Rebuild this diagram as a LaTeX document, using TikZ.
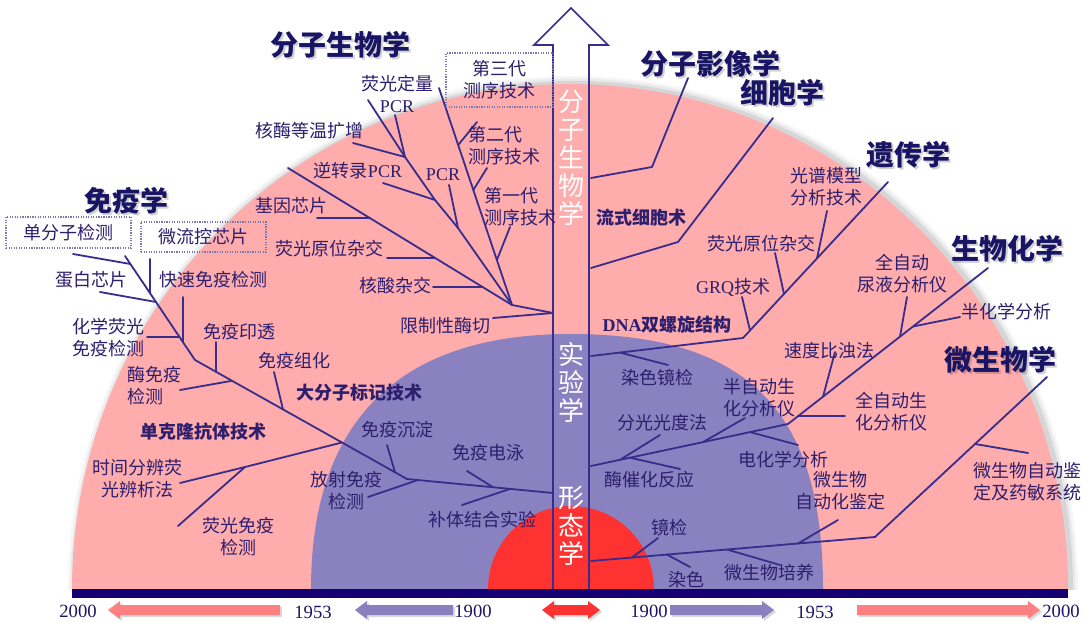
\documentclass[tikz,border=0pt]{standalone}
\usepackage{fontspec}
\setmainfont{Noto Sans CJK SC}
\newfontfamily\lat{Liberation Serif}
\usetikzlibrary{calc}
\definecolor{pinkbg}{RGB}{255,172,172}
\definecolor{bluebg}{RGB}{138,130,192}
\definecolor{redbg}{RGB}{255,50,50}
\definecolor{barc}{RGB}{20,0,115}
\definecolor{linec}{RGB}{55,45,140}
\definecolor{labc}{RGB}{45,30,110}
\definecolor{ttlc}{RGB}{25,20,100}
\definecolor{boxc}{RGB}{120,120,175}
\definecolor{arrpink}{RGB}{255,128,128}
\definecolor{arrblue}{RGB}{138,128,192}
\definecolor{yearc}{RGB}{30,20,100}
\newcommand\mylf{\fontsize{13.5}{16.5}\selectfont}
\newcommand\mytf{\fontsize{21}{24}\selectfont\bfseries}
\newcommand\myvf{\fontsize{19.5}{21}\selectfont}
\newcommand\myyf{\lat\fontsize{14}{16}\selectfont}
\begin{document}
\begin{tikzpicture}[x=0.75pt,y=-0.75pt,
  lbl/.style={text=labc,font=\mylf,inner sep=0pt,align=center},
  lbll/.style={lbl,align=left,anchor=west},
  bld/.style={lbl,font=\mylf\bfseries},
  ttl/.style={text=ttlc,font=\mytf,inner sep=0pt},
  ttlsh/.style={text=black,opacity=0.18,font=\mytf,inner sep=0pt},
  br/.style={draw=linec,line width=1.35pt,line join=round,line cap=round},
  dbox/.style={draw=boxc,densely dotted,line width=0.9pt},
  vtxt/.style={text=white,font=\myvf,inner sep=0pt,align=center},
  yr/.style={text=yearc,font=\myyf,inner sep=0pt},
  tlsh/.style={fill=black,opacity=0.15},
]
\useasboundingbox (0,0) rectangle (1084,623);
\fill[white] (0,0) rectangle (1084,623);
% ---------- background half discs ----------
\begin{scope}
\clip (0,0) rectangle (1084,589);
\foreach \d/\o in {7/0.035,4.5/0.05,2/0.08}{
  \fill[black,opacity=\o] (573,588) ellipse [x radius=498+\d, y radius=505+\d];
}
\fill[pinkbg] (570,589) ellipse [x radius=498, y radius=505];
\fill[bluebg] (311,589) .. controls (311,425) and (395,334) .. (570,334)
  .. controls (747,334) and (823,410) .. (823,589) -- cycle;
\fill[redbg] (571,589) circle [radius=83];
\end{scope}
\fill[barc] (72,589) rectangle (1068,598);
% ---------- coordinates: molecular biology ----------
\coordinate (mS) at (553,313); \coordinate (mE) at (512,305); \coordinate (mR) at (493,318);
\coordinate (mL1) at (288,168);
\coordinate (mJ1) at (370,218.2); \coordinate (mG1) at (317,218.2);
\coordinate (mJ2) at (435,257.9); \coordinate (mG2) at (387,257.9);
\coordinate (mJ3) at (483,287.3); \coordinate (mG3) at (433,287.3);
\coordinate (mD) at (458,228); \coordinate (mC) at (435,200); \coordinate (mB) at (405,157); \coordinate (mA) at (368,100);
\coordinate (mB1) at (395,115); \coordinate (mB2) at (353,143); \coordinate (mC1) at (383,183); \coordinate (mD1) at (449,185);
\coordinate (mT) at (439,88);
\coordinate (mK1) at (458.2,145); \coordinate (mK1e) at (477,122);
\coordinate (mK2) at (473.3,190); \coordinate (mK2e) at (487,168);
\coordinate (mK3) at (496.9,260); \coordinate (mK3e) at (510,227);
% ---------- coordinates: immunology ----------
\coordinate (iT0) at (125,256); \coordinate (iT1) at (195,360); \coordinate (iT2) at (407,479); \coordinate (iS) at (553,493);
\coordinate (iA) at (130.4,264); \coordinate (iAe) at (73,254);
\coordinate (iB) at (150,293); \coordinate (iBe) at (150,259);
\coordinate (iC) at (156,302); \coordinate (iCe) at (100,292);
\coordinate (iD) at (179.5,337); \coordinate (iDe) at (147,337);
\coordinate (iE) at (183,342); \coordinate (iEe) at (183,297);
\coordinate (iF) at (216,371.8); \coordinate (iFe) at (216,342);
\coordinate (iG) at (232,380.8); \coordinate (iGe) at (180,390);
\coordinate (iH) at (283,409.4); \coordinate (iHe) at (274,372);
\coordinate (iI) at (342,442.5); \coordinate (iIm) at (245,467); \coordinate (iIe) at (180,483); \coordinate (iIf) at (178,526);
\coordinate (iJ) at (395,472.3); \coordinate (iJe) at (387,445);
\coordinate (iK) at (418,480); \coordinate (iKe) at (368,497);
\coordinate (iL) at (493,487.2); \coordinate (iLe) at (467,471);
\coordinate (iM) at (510,488.9); \coordinate (iMe) at (462,505);
% ---------- coordinates: right side ----------
\coordinate (rA0) at (591,178); \coordinate (rA1) at (652,167); \coordinate (rA2) at (688,78);
\coordinate (rB0) at (591,268); \coordinate (rB1) at (678,242); \coordinate (rB2) at (773,118);
\coordinate (rC0) at (591,356); \coordinate (rC1) at (743,338); \coordinate (rC2) at (888,182);
\coordinate (rCa) at (620,352.6); \coordinate (rCae) at (668,365);
\coordinate (rCb) at (750,330.5); \coordinate (rCbe) at (742,297);
\coordinate (rCc) at (784,293.9); \coordinate (rCce) at (775,253);
\coordinate (rCd) at (817,258.4); \coordinate (rCde) at (827,211);
\coordinate (rD0) at (591,466); \coordinate (rD1) at (788,424); \coordinate (rD2) at (988,268);
\coordinate (rDa) at (620,459.8); \coordinate (rDae) at (660,435);
\coordinate (rDb) at (630,457.7); \coordinate (rDbe) at (680,469);
\coordinate (rDc) at (703,442.1); \coordinate (rDce) at (745,418);
\coordinate (rDd) at (750,432.1); \coordinate (rDde) at (798,445);
\coordinate (rDe) at (798,416.2); \coordinate (rDee) at (845,416.2);
\coordinate (rDf) at (823,396.7); \coordinate (rDfe) at (835,352);
\coordinate (rDg) at (900,336.6); \coordinate (rDge) at (907,297);
\coordinate (rDh) at (913,326.5); \coordinate (rDhe) at (960,317);
\coordinate (rE0) at (591,561); \coordinate (rE1) at (875,537); \coordinate (rE2) at (1047,377);
\coordinate (rEa) at (632,557.5); \coordinate (rEae) at (658,538);
\coordinate (rEb) at (667,554.6); \coordinate (rEbe) at (690,567);
\coordinate (rEc) at (727,549.5); \coordinate (rEce) at (780,565);
\coordinate (rEd) at (798,543.5); \coordinate (rEde) at (838,520);
\coordinate (rEf) at (975,444); \coordinate (rEfe) at (1028,453);
% ---------- branches ----------
\draw[br] (mS) -- (mE); \draw[br] (mS) -- (mR);
\draw[br] (mE) -- (mL1);
\draw[br] (mG1) -- (mJ1); \draw[br] (mG2) -- (mJ2); \draw[br] (mG3) -- (mJ3);
\draw[br] (mE) -- (mD) -- (mC) -- (mB) -- (mA);
\draw[br] (mB) -- (mB1); \draw[br] (mB) -- (mB2); \draw[br] (mC) -- (mC1); \draw[br] (mD) -- (mD1);
\draw[br] (mE) -- (mT);
\draw[br] (mK1) -- (mK1e); \draw[br] (mK2) -- (mK2e); \draw[br] (mK3) -- (mK3e);
\draw[br] (iT0) -- (iT1) -- (iT2) -- (iS);
\draw[br] (iAe) -- (iA); \draw[br] (iBe) -- (iB); \draw[br] (iCe) -- (iC); \draw[br] (iDe) -- (iD);
\draw[br] (iEe) -- (iE); \draw[br] (iFe) -- (iF); \draw[br] (iGe) -- (iG); \draw[br] (iHe) -- (iH);
\draw[br] (iIe) -- (iIm) -- (iI); \draw[br] (iIf) -- (iIm);
\draw[br] (iJe) -- (iJ); \draw[br] (iKe) -- (iK); \draw[br] (iLe) -- (iL); \draw[br] (iMe) -- (iM);
\draw[br] (rA0) -- (rA1) -- (rA2);
\draw[br] (rB0) -- (rB1) -- (rB2);
\draw[br] (rC0) -- (rC1) -- (rC2);
\draw[br] (rCa) -- (rCae); \draw[br] (rCb) -- (rCbe); \draw[br] (rCc) -- (rCce); \draw[br] (rCd) -- (rCde);
\draw[br] (rD0) -- (rD1) -- (rD2);
\draw[br] (rDa) -- (rDae); \draw[br] (rDb) -- (rDbe); \draw[br] (rDc) -- (rDce); \draw[br] (rDd) -- (rDde);
\draw[br] (rDe) -- (rDee); \draw[br] (rDf) -- (rDfe); \draw[br] (rDg) -- (rDge); \draw[br] (rDh) -- (rDhe);
\draw[br] (rE0) -- (rE1) -- (rE2);
\draw[br] (rEa) -- (rEae); \draw[br] (rEb) -- (rEbe); \draw[br] (rEc) -- (rEce); \draw[br] (rEd) -- (rEde);
\draw[br] (rEf) -- (rEfe);
% ---------- central arrow ----------
\draw[linec,line width=1.3pt,line join=miter] (553,589) -- (553,45) -- (534,45) -- (571,8) -- (608,45) -- (589,45) -- (589,589);
\node[vtxt] (v1) at (571,158) {分\\子\\生\\物\\学};
\node[vtxt] (v2) at (571,383) {实\\验\\学};
\node[vtxt] (v3) at (571,526) {形\\态\\学};
% ---------- titles ----------
\foreach \n/\x/\y/\t in {t1/340/45/分子生物学, t2/126/201/免疫学, t3/710/64/分子影像学, t4/782/93/细胞学, t5/908/155/遗传学, t6/1007/249/生物化学, t7/1000/360/微生物学}{
  \node[ttlsh] (\n s) at (\x+2,\y+2) {\t};
  \node[ttl] (\n) at (\x,\y) {\t};
}
% ---------- labels: molecular biology ----------
\node[lbl] (lm1) at (397,94) {荧光定量\\{\lat PCR}};
\node[lbl] (lm2) at (309,131) {核酶等温扩增};
\node[lbl] (lm3) at (358,171) {逆转录{\lat PCR}};
\node[lbl] (lm4) at (443,175) {\lat PCR};
\node[lbl] (lm5) at (291,206) {基因芯片};
\node[lbl] (lm6) at (329,249) {荧光原位杂交};
\node[lbl] (lm7) at (395,286) {核酸杂交};
\node[lbl] (lm8) at (445,326) {限制性酶切};
\node[lbl,dbox,minimum width=80.25pt,minimum height=40.5pt] (lm9) at (499.5,80) {第三代\\测序技术};
\node[lbll] (lm10) at (468,146) {第二代\\测序技术};
\node[lbll] (lm11) at (484,207) {第一代\\测序技术};
% ---------- labels: immunology ----------
\node[lbl,dbox,minimum width=93.75pt,minimum height=23.25pt] (li1) at (68.5,232.5) {单分子检测};
\node[lbl,dbox,minimum width=93.75pt,minimum height=22.5pt] (li2) at (203.5,237) {微流控芯片};
\node[lbl] (li3) at (91,280) {蛋白芯片};
\node[lbl] (li4) at (213,280) {快速免疫检测};
\node[lbl] (li5) at (108,338) {化学荧光\\免疫检测};
\node[lbl] (li6) at (239,332) {免疫印透};
\node[lbl] (li7) at (294,361) {免疫组化};
\node[lbll] (li8) at (127,386) {酶免疫\\检测};
\node[bld] (li9) at (359,393) {大分子标记技术};
\node[bld] (li10) at (203,432) {单克隆抗体技术};
\node[lbl] (li11) at (137,479) {时间分辨荧\\光辨析法};
\node[lbl] (li12) at (238,537) {荧光免疫\\检测};
\node[lbl] (li13) at (346,491) {放射免疫\\检测};
\node[lbl] (li14) at (397,430) {免疫沉淀};
\node[lbl] (li15) at (488,453) {免疫电泳};
\node[lbl] (li16) at (482,520) {补体结合实验};
% ---------- labels: right side ----------
\node[bld] (lr1) at (641,218) {流式细胞术};
\node[bld] (lr2) at (667,325) {{\lat\bfseries DNA}双螺旋结构};
\node[lbl] (lr3) at (733,287) {{\lat GRQ}技术};
\node[lbl] (lr4) at (761,244) {荧光原位杂交};
\node[lbl] (lr5) at (826,187) {光谱模型\\分析技术};
\node[lbl] (lr6) at (657,378) {染色镜检};
\node[lbl] (lr7) at (662,423) {分光光度法};
\node[lbl] (lr8) at (649,480) {酶催化反应};
\node[lbl] (lr9) at (759,398) {半自动生\\化分析仪};
\node[lbl] (lr10) at (783,460) {电化学分析};
\node[lbl] (lr11) at (829,351) {速度比浊法};
\node[lbl] (lr12) at (902,274) {全自动\\尿液分析仪};
\node[lbl] (lr13) at (1006,312) {半化学分析};
\node[lbl] (lr14) at (891,412) {全自动生\\化分析仪};
\node[lbl] (lr15) at (669,528) {镜检};
\node[lbl] (lr16) at (686,580) {染色};
\node[lbl] (lr17) at (769,573) {微生物培养};
\node[lbl] (lr18) at (840,491) {微生物\\自动化鉴定};
\node[lbl] (lr19) at (1027,482) {微生物自动鉴\\定及药敏系统};
% ---------- timeline ----------
\foreach \dx/\dy/\s in {2/2/tlsh, 0/0/}{
\begin{scope}[shift={(\dx,\dy)}]
\fill[arrpink,\s] (108,610) -- (120,601) -- (120,605) -- (280,605) -- (280,615) -- (120,615) -- (120,619) -- cycle;
\fill[arrblue,\s] (355,610) -- (367,601) -- (367,605) -- (453,605) -- (453,615) -- (367,615) -- (367,619) -- cycle;
\fill[redbg,\s] (542,610) -- (554,601) -- (554,605) -- (588,605) -- (588,601) -- (600,610) -- (588,619) -- (588,615) -- (554,615) -- (554,619) -- cycle;
\fill[arrblue,\s] (774,610) -- (762,601) -- (762,605) -- (670,605) -- (670,615) -- (762,615) -- (762,619) -- cycle;
\fill[arrpink,\s] (1040,610) -- (1028,601) -- (1028,605) -- (857,605) -- (857,615) -- (1028,615) -- (1028,619) -- cycle;
\end{scope}}
\node[yr] (y1) at (78,611) {2000};
\node[yr] (y2) at (313,612) {1953};
\node[yr] (y3) at (473,611) {1900};
\node[yr] (y4) at (649,611) {1900};
\node[yr] (y5) at (815,612) {1953};
\node[yr] (y6) at (1061,611) {2000};
\end{tikzpicture}
\end{document}
